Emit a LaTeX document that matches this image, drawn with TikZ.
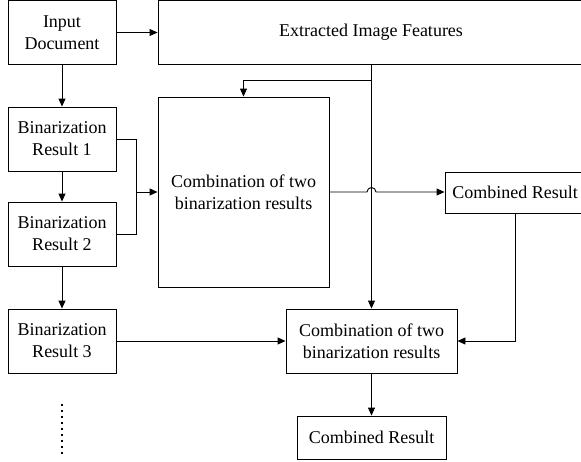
\documentclass[tikz,border=0pt]{standalone}
\usepackage{fontspec}
\setmainfont{Liberation Serif}
\usetikzlibrary{arrows.meta}

\begin{document}
\begin{tikzpicture}[x=1pt,y=-1pt,
  box/.style={draw, line width=0.9pt, rectangle, align=center, inner sep=0pt,
    font=\fontsize{18}{22}\selectfont},
  conn/.style={draw, line width=0.9pt},
  arr/.style={conn, -{Triangle[length=8pt,width=7pt]}}
]
\useasboundingbox (0,0) rectangle (581,461);

% boxes
\node[box, minimum width=108, minimum height=63.5] (inp) at (62,32.5) {Input\\Document};
\node[box, minimum width=426, minimum height=63.5] (feat) at (371,32.5) {Extracted Image Features};
\node[box, minimum width=108, minimum height=64] (b1) at (62,139) {Binarization\\Result 1};
\node[box, minimum width=108, minimum height=64] (b2) at (62,234) {Binarization\\Result 2};
\node[box, minimum width=108, minimum height=64] (b3) at (62,341) {Binarization\\Result 3};
\node[box, minimum width=171, minimum height=190] (c1) at (243.5,192) {Combination of two\\binarization results};
\node[box, minimum width=140, minimum height=41] (r1) at (515,192.5) {Combined Result};
\node[box, minimum width=171, minimum height=64] (c2) at (371.5,341) {Combination of two\\binarization results};
\node[box, minimum width=149, minimum height=43] (r2) at (371.5,437.5) {Combined Result};

% vertical chain on the left
\draw[arr] (inp) -- (b1);
\draw[arr] (b1) -- (b2);
\draw[arr] (b2) -- (b3);
\draw[arr] (inp) -- (feat);

% results 1 and 2 merged into the first combination
\coordinate (m) at (136,192);
\draw[conn] (b1.east) -- (b1.east -| m) -- (b2.east -| m) -- (b2.east);
\draw[arr] (m) -- (m -| c1.west);

% feature line feeding both combination boxes
\coordinate (fk) at (371.5,80);
\draw[arr] (c2.north |- feat.south) -- (c2.north);
\draw[arr] (fk) -- (fk -| c1.north) -- (c1.north);

% first combination to its result, hopping over the feature line
\coordinate (hopL) at (367,192);
\draw[arr] (c1.east |- hopL) -- (hopL) arc[start angle=180, end angle=0, radius=4.5pt] -- (r1.west |- hopL);

% result 3 and the first result into the second combination
\draw[arr] (b3.east) -- (c2.west);
\draw[arr] (r1.south) -- (r1.south |- c2.east) -- (c2.east);
\draw[arr] (c2) -- (r2);

% continuation dots
\coordinate (d1) at (62,404);
\coordinate (d2) at (62,454);
\draw[line width=2pt, dash pattern=on 2pt off 4pt] (d1) -- (d2);
\end{tikzpicture}
\end{document}
